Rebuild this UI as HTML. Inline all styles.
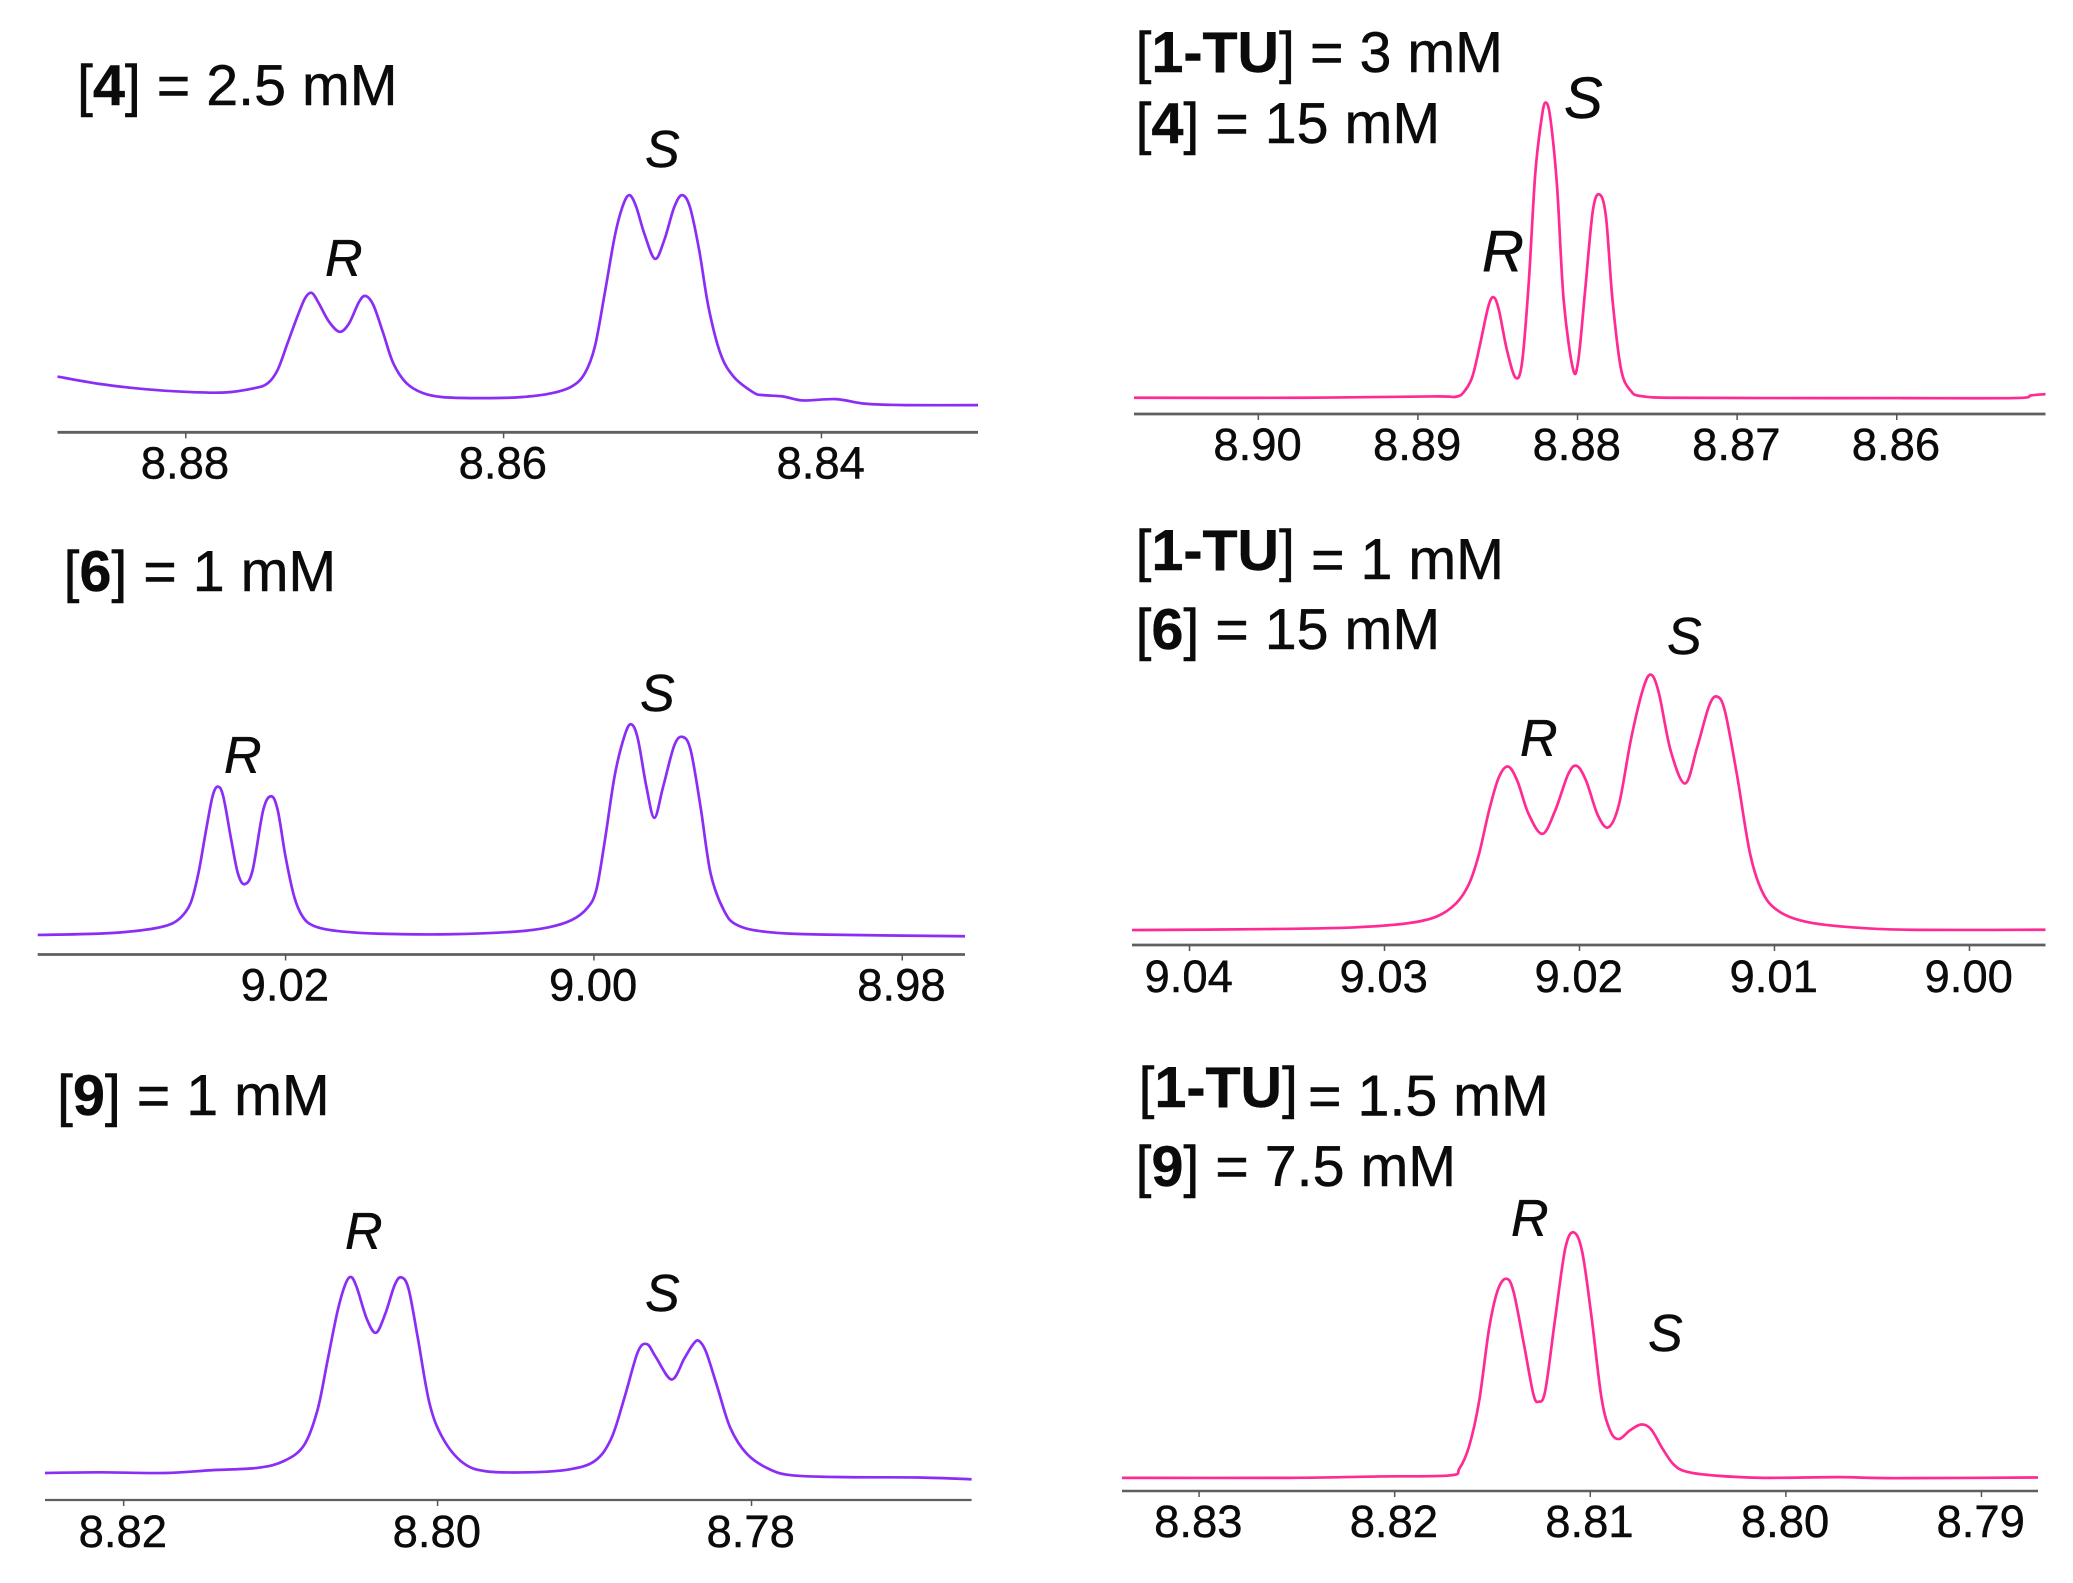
<!DOCTYPE html>
<html lang="en">
<head>
<meta charset="utf-8">
<title>NMR spectra</title>
<style>
html,body{margin:0;padding:0;background:#fff;}
svg{display:block;}
text{font-family:"Liberation Sans",Arial,sans-serif;fill:#0b0b0b;stroke:#0b0b0b;stroke-width:.45px;}
.cond{font-size:57.4px;}
.cond .b{font-weight:700;}
.tag{font-size:52px;font-style:italic;}
.tag.big{font-size:58px;}
.tick{font-size:45.4px;text-anchor:middle;}
</style>
</head>
<body>
<svg id="chart" xmlns="http://www.w3.org/2000/svg" width="2073" height="1583" viewBox="0 0 2073 1583">
<rect width="2073" height="1583" fill="#ffffff"/>

<text class="cond" x="77" y="105">[<tspan class="b">4</tspan>] = 2.5 mM</text>
<text class="cond" x="1135.5" y="72">[<tspan class="b">1-TU</tspan>]<tspan x="1310" y="72">= 3 mM</tspan></text>
<text class="cond" x="1135.5" y="143">[<tspan class="b">4</tspan>] = 15 mM</text>
<text class="cond" x="63.5" y="591">[<tspan class="b">6</tspan>] = 1 mM</text>
<text class="cond" x="1135.5" y="570">[<tspan class="b">1-TU</tspan>]<tspan x="1311" y="579">= 1 mM</tspan></text>
<text class="cond" x="1135.5" y="649">[<tspan class="b">6</tspan>] = 15 mM</text>
<text class="cond" x="57" y="1115">[<tspan class="b">9</tspan>] = 1 mM</text>
<text class="cond" x="1138.5" y="1107">[<tspan class="b">1-TU</tspan>]<tspan x="1308" y="1115.5">= 1.5 mM</tspan></text>
<text class="cond" x="1135.5" y="1186">[<tspan class="b">9</tspan>] = 7.5 mM</text>

<text class="tag" x="325" y="276">R</text>
<text class="tag" x="645" y="167">S</text>
<text class="tag big" x="1482" y="271">R</text>
<text class="tag big" x="1564" y="118">S</text>
<text class="tag" x="224" y="773">R</text>
<text class="tag" x="640" y="711">S</text>
<text class="tag" x="1520" y="756">R</text>
<text class="tag" x="1667" y="654">S</text>
<text class="tag" x="345" y="1249">R</text>
<text class="tag" x="645" y="1311">S</text>
<text class="tag" x="1511" y="1236">R</text>
<text class="tag" x="1648" y="1351">S</text>
</svg>

<script>
// Panel 1: [4] = 2.5 mM
const p1Ppm = [8.88807,8.88545,8.88254,8.88004,8.87755,8.87568,8.87484,8.87422,8.87360,8.87297,8.87247,8.87206,8.87164,8.87098,8.87031,8.86973,8.86911,8.86869,8.86819,8.86757,8.86694,8.86611,8.86507,8.86383,8.86175,8.85925,8.85717,8.85572,8.85489,8.85426,8.85364,8.85301,8.85252,8.85210,8.85168,8.85114,8.85048,8.84990,8.84927,8.84877,8.84827,8.84769,8.84711,8.84636,8.84553,8.84428,8.84366,8.84241,8.84116,8.83909,8.83721,8.83472,8.83015];
const p1Intensity = [16.8,14.6,13,12.2,12,13.3,14.8,18.8,26.8,35,40.6,42,39,33.3,30.3,32.8,39.2,41.1,38.3,29.8,20.8,14.8,11.8,10.6,10.3,10.5,11.6,13.8,17.8,25.8,41.8,59,68,71.5,68.3,59.8,52.3,57.8,67.8,71.5,67.8,54.8,37.8,23.8,16.8,12,11.2,10.8,9.6,10,8.6,8.2,8.2];
const p1Ticks = [8.88,8.86,8.84];
const p1TickLabels = ["8.88","8.86","8.84"];

// Panel 2: [1-TU] = 3 mM, [4] = 15 mM
const p2Ppm = [8.90779,8.89735,8.88907,8.88762,8.88708,8.88658,8.88609,8.88559,8.88526,8.88493,8.88443,8.88389,8.88348,8.88306,8.88265,8.88224,8.88199,8.8817,8.88128,8.88087,8.88029,8.87996,8.87954,8.87905,8.87863,8.87822,8.87781,8.87727,8.87665,8.87602,8.87416,8.86836,8.86008,8.85263,8.85159,8.85068];
const p2Intensity = [4.9,4.9,5.3,5.2,6.9,11.4,21.4,32.4,35.2,31.4,19.4,11,15.4,39.4,72.4,89.5,93.9,89,68.4,34.4,13.7,15.9,36.4,61,66.2,59.5,34.4,13.4,6.9,5.4,4.9,4.8,4.8,4.8,5.6,6];
const p2Ticks = [8.90,8.89,8.88,8.87,8.86];
const p2TickLabels = ["8.90","8.89","8.88","8.87","8.86"];

// Panel 3: [6] = 1 mM
const p3Ppm = [9.03608,9.03209,9.02952,9.0278,9.02686,9.02617,9.02566,9.02514,9.02472,9.02437,9.02403,9.02352,9.02309,9.02266,9.02214,9.02146,9.02094,9.02051,9.02,9.01944,9.01889,9.01816,9.01666,9.01408,9.00937,9.00508,9.00294,9.00144,9.00045,8.99985,8.99929,8.99865,8.99801,8.99758,8.99715,8.99659,8.99608,8.99552,8.99479,8.99424,8.99372,8.99308,8.99243,8.99158,8.99072,8.98879,8.98493,8.97593];
const p3Intensity = [5.9,6.3,7.2,8.6,10.9,15.4,24.4,38,48,50.6,47.4,34.4,24.4,21.2,25.4,43.4,47.7,43.5,29.4,17.4,11.4,8.6,7.1,6.3,6.1,6.9,8.2,10.4,13.9,19.4,34.4,54,66,69.4,65,50.4,41.2,50.4,63,65.6,61.5,44.4,24.4,13.4,8.9,6.8,6,5.5];
const p3Ticks = [9.02,9.00,8.98];
const p3TickLabels = ["9.02","9.00","8.98"];

// Panel 4: [1-TU] = 1 mM, [6] = 15 mM
const p4Ppm = [9.04295,9.036,9.03159,9.02888,9.02736,9.02634,9.02566,9.02515,9.02464,9.02414,9.02366,9.02319,9.02261,9.0219,9.02125,9.02058,9.02014,9.01966,9.01905,9.01851,9.01797,9.01736,9.01675,9.01634,9.01593,9.01532,9.01458,9.01397,9.01336,9.01295,9.01254,9.01193,9.01125,9.01058,9.00973,9.00837,9.00617,9.00312,8.9961];
const p4Intensity = [4.5,4.8,5.3,6.5,8.5,12.5,18.5,27.5,40.5,50.5,53.8,49.5,39.5,33.5,40.5,51.5,54,49.5,39,35.5,42.5,62,77,81.5,76,58.5,48.7,59.5,72,74.9,70.5,51.5,27.5,15.5,10,7,5.4,4.6,4.6];
const p4Ticks = [9.04,9.03,9.02,9.01,9.00];
const p4TickLabels = ["9.04","9.03","9.02","9.01","9.00"];

// Panel 5: [9] = 1 mM
const p5Ppm = [8.82501,8.82156,8.81735,8.8144,8.81145,8.80977,8.80851,8.80766,8.80703,8.8064,8.8059,8.80552,8.80514,8.80451,8.80392,8.80333,8.80274,8.80232,8.80185,8.80126,8.80051,8.79966,8.7984,8.79693,8.79419,8.79166,8.78998,8.78893,8.78808,8.78724,8.78665,8.7861,8.78509,8.78429,8.78375,8.78337,8.7829,8.78219,8.78135,8.78029,8.77882,8.77734,8.77398,8.76934,8.76598];
const p5Intensity = [7.8,8,7.8,8.6,9.3,11.3,15.8,25.8,39.8,54,62,64.4,61.3,52.3,48.3,53.8,62,64.3,61,46.8,27.8,17.8,10.8,8.3,8,8.8,11.3,17.8,29.8,42.8,45,41.3,34.8,40.8,44.8,46,42.8,32.8,20.8,13.3,8.8,7.1,6.6,6.5,6];
const p5Ticks = [8.82,8.80,8.78];
const p5TickLabels = ["8.82","8.80","8.78"];

// Panel 6: [1-TU] = 1.5 mM, [9] = 7.5 mM
const p6Ppm = [8.83394,8.82548,8.82075,8.8172,8.81669,8.81619,8.81568,8.81517,8.81473,8.81429,8.81392,8.81338,8.81291,8.81264,8.8123,8.81179,8.81128,8.81085,8.81041,8.80993,8.80943,8.80899,8.80855,8.80797,8.8074,8.80689,8.80628,8.80571,8.80503,8.80351,8.80114,8.79725,8.79438,8.78711];
const p6Intensity = [3.8,3.8,4.2,4.5,6.5,13,26,47,58,61.3,57.5,42,28,25.8,29,50,70,74.7,69,50,27,17.5,15,17.5,19.2,17.8,12,7.5,5.5,4.4,3.8,4,3.7,3.9];
const p6Ticks = [8.83,8.82,8.81,8.80,8.79];
const p6TickLabels = ["8.83","8.82","8.81","8.80","8.79"];

const NS = "http://www.w3.org/2000/svg";
const svg = document.getElementById("chart");

function smoothPath(pts){
  let d = "M" + pts[0][0].toFixed(2) + " " + pts[0][1].toFixed(2);
  for(let i = 0; i < pts.length - 1; i++){
    const p0 = pts[Math.max(i - 1, 0)], p1 = pts[i], p2 = pts[i + 1], p3 = pts[Math.min(i + 2, pts.length - 1)];
    const c1x = p1[0] + (p2[0] - p0[0]) / 6, c1y = p1[1] + (p2[1] - p0[1]) / 6;
    const c2x = p2[0] - (p3[0] - p1[0]) / 6, c2y = p2[1] - (p3[1] - p1[1]) / 6;
    d += "C" + c1x.toFixed(2) + " " + c1y.toFixed(2) + " " + c2x.toFixed(2) + " " + c2y.toFixed(2) + " " + p2[0].toFixed(2) + " " + p2[1].toFixed(2);
  }
  return d;
}

function drawPanel(id, ppm, intensity, ticks, tickLabels, cfg){
  const xScale = v => cfg.left + (cfg.ppmLeft - v) / (cfg.ppmLeft - cfg.ppmRight) * (cfg.right - cfg.left);
  const yScale = v => cfg.axisY - v * cfg.unit;

  const axis = document.createElementNS(NS, "line");
  axis.setAttribute("x1", cfg.left);
  axis.setAttribute("x2", cfg.right);
  axis.setAttribute("y1", cfg.axisY);
  axis.setAttribute("y2", cfg.axisY);
  axis.setAttribute("stroke", "#5f5f5f");
  axis.setAttribute("stroke-width", cfg.axisWidth);
  
  
  svg.appendChild(axis);

  ticks.forEach((t, i) => {
    const x = xScale(t);
    const mark = document.createElementNS(NS, "line");
    mark.setAttribute("x1", x);
    mark.setAttribute("x2", x);
    mark.setAttribute("y1", cfg.axisY);
    mark.setAttribute("y2", cfg.axisY + 6);
    mark.setAttribute("stroke", "#555555");
    mark.setAttribute("stroke-width", 1.5);
    
    
    svg.appendChild(mark);

    const label = document.createElementNS(NS, "text");
    label.setAttribute("class", "tick");
    label.setAttribute("x", x - 0.8);
    label.setAttribute("y", cfg.axisY + cfg.labelGap);
    label.textContent = tickLabels[i];
    
    
    svg.appendChild(label);
  });

  const pts = ppm.map((v, i) => [xScale(v), yScale(intensity[i])]);
  const path = document.createElementNS(NS, "path");
  path.setAttribute("d", smoothPath(pts));
  path.setAttribute("fill", "none");
  path.setAttribute("stroke", cfg.color);
  path.setAttribute("stroke-width", 2.7);
  path.setAttribute("stroke-linejoin", "round");
  
  
  svg.appendChild(path);
}

const PURPLE = "#8a2df5";
const PINK = "#ff2a93";
drawPanel("panel-1", p1Ppm, p1Intensity, p1Ticks, p1TickLabels, {left:57.5,right:978,ppmLeft:8.88807,ppmRight:8.83015,axisY:432.3,unit:3.317,axisWidth:2.8,labelGap:46,color:PURPLE});
drawPanel("panel-2", p2Ppm, p2Intensity, p2Ticks, p2TickLabels, {left:1134,right:2045.5,ppmLeft:8.90779,ppmRight:8.85068,axisY:414,unit:3.317,axisWidth:2.8,labelGap:46,color:PINK});
drawPanel("panel-3", p3Ppm, p3Intensity, p3Ticks, p3TickLabels, {left:37.7,right:965,ppmLeft:9.03608,ppmRight:8.97593,axisY:954.5,unit:3.317,axisWidth:2.8,labelGap:46,color:PURPLE});
drawPanel("panel-4", p4Ppm, p4Intensity, p4Ticks, p4TickLabels, {left:1132,right:2045.5,ppmLeft:9.04295,ppmRight:8.9961,axisY:945,unit:3.317,axisWidth:2.8,labelGap:47,color:PINK});
drawPanel("panel-5", p5Ppm, p5Intensity, p5Ticks, p5TickLabels, {left:45,right:971.6,ppmLeft:8.82501,ppmRight:8.76598,axisY:1500,unit:3.463,axisWidth:2.2,labelGap:47,color:PURPLE});
drawPanel("panel-6", p6Ppm, p6Intensity, p6Ticks, p6TickLabels, {left:1122,right:2038,ppmLeft:8.83394,ppmRight:8.78711,axisY:1491,unit:3.463,axisWidth:2.6,labelGap:46,color:PINK});
</script>
</body>
</html>
